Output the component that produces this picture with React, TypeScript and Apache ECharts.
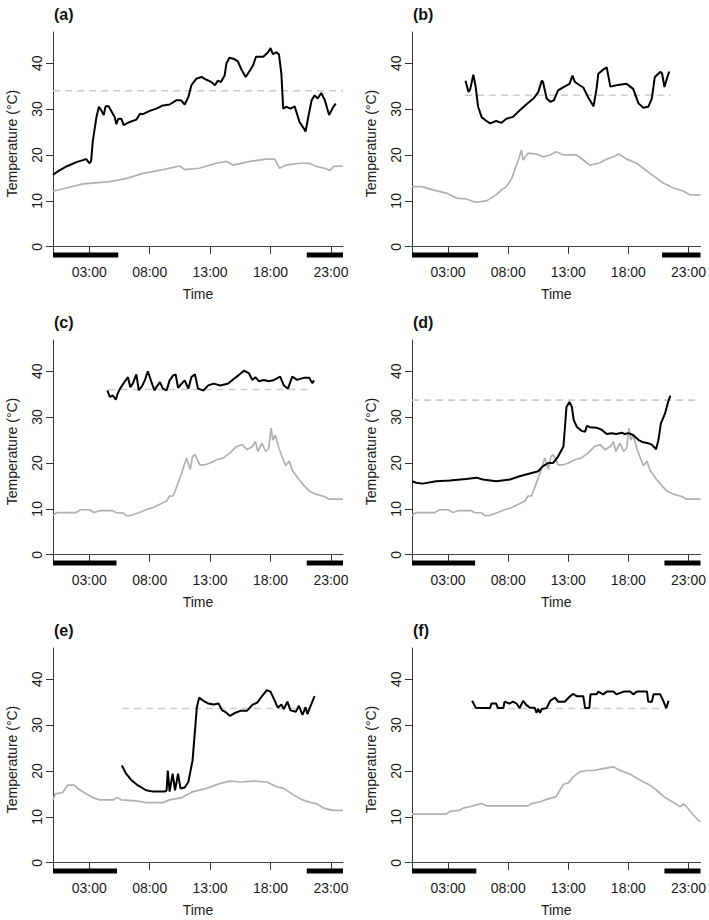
import React, { useEffect, useRef } from "react";
import * as echarts from "echarts";

// ---------- data (hour of day, temperature °C) ----------
const panelLabels = ["(a)", "(b)", "(c)", "(d)", "(e)", "(f)"];
const xTickHours = [3, 8, 13, 18, 23];
const yTickValues = [0, 10, 20, 30, 40];

const bodyA: [number, number][] = [
  [0, 15.7], [0.5, 16.6], [1.2, 17.6], [2, 18.5], [2.75, 19.1], [3, 18.2], [3.15, 18.6], [3.3, 23.2], [3.6, 28.3], [3.8, 30.5],
  [4.0, 29.7], [4.2, 28.7], [4.35, 30.6], [4.6, 30.6], [4.8, 29.7], [5.1, 28.3], [5.24, 26.7], [5.4, 27.9], [5.65, 27.9],
  [5.85, 26.5], [6.35, 27.2], [6.9, 27.7], [7.2, 29.0], [7.45, 28.9], [8.0, 29.6], [8.55, 30.1], [9.1, 30.8], [9.65, 31.0],
  [10.2, 31.9], [10.6, 31.9], [10.9, 31.0], [11.2, 32.6], [11.45, 35.2], [11.85, 36.6], [12.3, 37.0], [12.55, 36.6],
  [13.1, 35.9], [13.4, 35.2], [13.65, 36.2], [13.9, 35.9], [14.2, 37.3], [14.35, 39.9], [14.6, 41.2], [15.0, 40.9],
  [15.3, 40.4], [15.6, 38.6], [15.95, 37.0], [16.3, 38.4], [16.55, 39.5], [16.8, 41.4], [17.4, 41.4], [17.8, 42.4],
  [18.0, 43.3], [18.2, 42.0], [18.5, 42.4], [18.7, 41.9], [18.9, 37.7], [19.05, 30.1], [19.3, 30.5], [19.65, 30.1],
  [20.0, 30.6], [20.4, 27.2], [20.75, 25.8], [20.9, 25.1], [21.1, 27.9], [21.4, 31.9], [21.65, 33.0], [21.9, 32.3],
  [22.2, 33.5], [22.5, 31.9], [22.85, 28.7], [23.2, 30.5], [23.4, 31.2],
];
const ambientA: [number, number][] = [
  [0, 12.1], [1.1, 12.8], [2.5, 13.7], [4.7, 14.2], [6.1, 14.9], [7.45, 16.0], [9.1, 16.8], [10.5, 17.6], [10.9, 16.8],
  [12.1, 17.1], [13.5, 18.2], [14.35, 18.6], [14.9, 17.8], [16.3, 18.6], [17.65, 19.1], [18.35, 19.1], [18.75, 17.1],
  [19.3, 17.8], [20.4, 18.2], [21.2, 18.2], [21.8, 17.5], [22.6, 17.0], [22.9, 16.6], [23.2, 17.5], [24, 17.6],
];

const bodyB: [number, number][] = [
  [4.45, 36.2], [4.7, 33.7], [4.85, 34.4], [5.1, 37.5], [5.3, 34.8], [5.5, 30.5], [5.8, 28.2], [6.2, 27.4], [6.5, 26.9],
  [7.0, 27.4], [7.45, 27.0], [7.85, 27.9], [8.4, 28.3], [8.95, 29.7], [9.5, 31.0], [10.1, 32.3], [10.5, 33.7], [10.8, 36.2],
  [10.9, 35.9], [11.2, 32.3], [11.5, 31.6], [11.8, 31.9], [12.15, 34.1], [12.6, 34.8], [13.1, 35.5], [13.35, 37.3],
  [13.55, 35.9], [13.95, 35.2], [14.25, 34.7], [14.65, 32.6], [15.1, 30.6], [15.35, 34.4], [15.5, 37.7], [15.9, 38.6],
  [16.2, 39.1], [16.5, 34.9], [17.0, 35.2], [17.85, 35.5], [18.4, 34.4], [18.85, 31.2], [19.25, 30.3], [19.65, 30.5],
  [19.95, 32.3], [20.2, 37.0], [20.65, 38.1], [20.8, 37.8], [21.0, 34.8], [21.15, 36.2], [21.4, 38.2],
];
const ambientB: [number, number][] = [
  [0, 13.1], [0.8, 13.1], [1.75, 12.4], [2.85, 11.7], [3.7, 10.6], [4.5, 10.4], [5.3, 9.7], [6.2, 10.0], [7.0, 11.3],
  [7.45, 12.4], [7.85, 13.1], [8.3, 14.9], [8.55, 16.8], [8.85, 18.9], [9.1, 21.1], [9.25, 18.9], [9.65, 20.4],
  [10.35, 20.2], [10.9, 19.6], [11.5, 20.0], [12.0, 20.7], [12.6, 20.0], [13.7, 20.0], [14.25, 18.9], [14.8, 17.8],
  [15.65, 18.3], [16.2, 19.1], [16.75, 19.6], [17.2, 20.2], [17.85, 19.1], [18.7, 18.2], [19.8, 16.0], [20.9, 13.9],
  [21.75, 12.8], [22.6, 12.1], [23.15, 11.3], [24, 11.3],
];

const bodyC: [number, number][] = [
  [4.5, 35.8], [4.7, 34.4], [4.95, 34.7], [5.2, 33.8], [5.35, 35.1], [5.55, 36.2], [5.9, 37.6], [6.2, 38.7], [6.4, 36.5],
  [6.6, 37.3], [6.9, 39.3], [7.1, 35.8], [7.4, 36.9], [7.6, 38.0], [7.85, 40.0], [8.15, 37.6], [8.4, 35.8], [8.6, 36.7],
  [8.85, 37.6], [9.1, 36.2], [9.4, 35.8], [9.65, 38.0], [9.95, 39.1], [10.15, 39.3], [10.35, 36.4], [10.65, 37.3],
  [10.9, 38.0], [11.2, 36.2], [11.45, 38.7], [11.75, 39.3], [12.0, 36.2], [12.45, 35.8], [12.85, 36.9], [13.3, 37.3],
  [13.85, 36.9], [14.5, 37.3], [14.95, 38.3], [15.35, 39.1], [15.8, 40.1], [16.2, 39.6], [16.5, 38.1], [16.75, 38.7],
  [17.05, 37.8], [17.45, 38.1], [17.85, 37.8], [18.3, 38.1], [18.8, 38.8], [19.1, 36.9], [19.45, 36.2], [19.8, 38.8],
  [20.2, 38.1], [20.8, 38.6], [21.2, 38.6], [21.45, 37.4], [21.6, 38.0],
];
const ambientCD: [number, number][] = [
  [0, 8.6], [0.35, 9.2], [1.9, 9.2], [2.3, 9.8], [3.0, 9.8], [3.4, 9.2], [3.85, 9.6], [4.95, 9.6], [5.2, 9.2], [5.8, 9.1],
  [6.05, 8.5], [6.5, 8.6], [7.15, 9.2], [7.7, 9.8], [8.3, 10.3], [8.85, 11.0], [9.4, 11.7], [9.65, 12.8], [9.95, 12.8],
  [10.2, 14.6], [10.65, 17.8], [11.05, 21.1], [11.35, 18.6], [11.55, 21.4], [11.75, 21.8], [12.15, 19.6], [12.6, 19.6],
  [13.0, 20.0], [13.55, 20.7], [14.1, 21.1], [14.65, 22.2], [15.2, 23.6], [15.65, 24.0], [16.05, 22.9], [16.5, 23.6],
  [16.75, 24.7], [16.95, 22.5], [17.3, 24.3], [17.6, 22.5], [17.85, 23.2], [18.05, 27.6], [18.2, 25.0], [18.4, 26.1],
  [18.7, 23.2], [18.95, 21.4], [19.25, 19.4], [19.55, 20.4], [19.8, 18.4], [20.35, 16.4], [20.8, 15.0], [21.2, 13.9],
  [21.75, 13.2], [22.45, 12.7], [22.85, 12.1], [24, 12.1],
];

const bodyD: [number, number][] = [
  [0, 16.0], [0.35, 15.7], [0.9, 15.5], [2.0, 16.0], [3.15, 16.2], [4.5, 16.5], [5.35, 16.8], [5.9, 16.4], [7.0, 16.0],
  [8.15, 16.4], [8.95, 17.1], [9.8, 17.7], [10.5, 18.2], [10.9, 19.3], [11.35, 20.0], [11.75, 20.0], [12.15, 21.4],
  [12.6, 23.6], [12.85, 32.2], [13.1, 33.3], [13.3, 32.2], [13.45, 29.4], [13.7, 27.9], [14.1, 27.0], [14.4, 26.8],
  [14.55, 28.1], [14.8, 27.8], [15.35, 27.7], [15.8, 27.2], [16.2, 26.3], [16.6, 26.5], [17.0, 26.3], [17.45, 26.6],
  [17.7, 26.3], [18.0, 26.5], [18.4, 26.1], [18.85, 25.0], [19.25, 24.5], [19.65, 24.3], [19.95, 24.0], [20.3, 23.0],
  [20.5, 25.0], [20.7, 28.6], [21.05, 30.8], [21.35, 33.7], [21.5, 34.7],
];

const bodyE: [number, number][] = [
  [5.7, 21.2], [6.05, 19.4], [6.45, 18.1], [7.0, 16.9], [7.7, 15.8], [8.3, 15.5], [8.85, 15.5], [9.25, 15.5], [9.4, 15.7],
  [9.5, 20.1], [9.65, 15.5], [9.9, 19.4], [10.1, 15.8], [10.35, 19.4], [10.55, 16.2], [10.9, 16.4], [11.2, 17.6],
  [11.55, 22.3], [11.75, 28.8], [11.9, 33.8], [12.1, 36.0], [12.45, 35.3], [12.85, 34.7], [13.3, 34.5], [13.7, 34.7],
  [14.0, 33.2], [14.25, 32.9], [14.65, 32.0], [15.1, 32.7], [15.5, 33.1], [16.05, 33.1], [16.5, 34.4], [16.9, 34.9],
  [17.3, 36.3], [17.7, 37.6], [18.0, 37.3], [18.3, 35.6], [18.6, 33.8], [18.9, 34.5], [19.1, 33.5], [19.4, 35.1],
  [19.65, 33.2], [20.1, 32.9], [20.35, 34.2], [20.65, 32.2], [20.9, 33.9], [21.05, 32.4], [21.35, 34.4], [21.65, 36.3],
];
const ambientE: [number, number][] = [
  [0, 13.7], [0.2, 15.0], [0.8, 15.3], [1.2, 16.9], [1.75, 16.9], [2.15, 16.0], [2.7, 15.1], [3.3, 14.2], [3.85, 13.7],
  [4.95, 13.7], [5.35, 14.2], [5.65, 13.7], [6.9, 13.5], [7.7, 13.1], [9.1, 13.1], [9.65, 13.7], [10.65, 14.2],
  [11.6, 15.5], [12.7, 16.2], [13.85, 17.3], [14.65, 17.8], [15.5, 17.6], [16.6, 17.8], [17.7, 17.6], [18.55, 16.5],
  [19.1, 16.2], [19.95, 14.7], [20.65, 13.7], [21.35, 13.1], [21.75, 12.9], [22.45, 11.9], [23.15, 11.4], [24, 11.4],
];

const bodyF: [number, number][] = [
  [5.0, 35.3], [5.3, 33.8], [5.9, 33.7], [6.5, 33.7], [6.6, 34.7], [7.0, 34.7], [7.15, 33.7], [7.6, 33.7], [7.7, 35.1],
  [8.1, 34.7], [8.4, 35.1], [8.7, 34.7], [8.95, 33.7], [9.25, 35.3], [9.5, 34.4], [9.8, 33.8], [10.2, 33.8], [10.35, 32.7],
  [10.5, 33.5], [10.65, 32.7], [10.8, 33.5], [11.2, 33.7], [11.5, 35.3], [11.9, 36.0], [12.15, 35.1], [12.7, 35.1],
  [13.15, 36.3], [13.4, 36.8], [13.7, 36.3], [14.25, 36.3], [14.4, 33.7], [14.75, 33.7], [14.85, 36.7], [15.35, 36.7],
  [15.5, 37.3], [15.9, 36.7], [16.2, 37.3], [16.75, 37.3], [17.0, 36.7], [17.6, 37.3], [18.15, 37.3], [18.4, 36.7],
  [18.7, 37.3], [19.55, 37.3], [19.65, 35.1], [19.95, 35.1], [20.1, 36.7], [20.65, 36.7], [20.9, 35.3], [21.15, 33.7],
  [21.35, 35.3],
];
const ambientF: [number, number][] = [
  [0, 10.6], [2.85, 10.6], [3.15, 11.2], [3.95, 11.4], [4.25, 11.9], [4.8, 12.2], [5.35, 12.6], [5.8, 12.9], [6.2, 12.4],
  [7.0, 12.4], [9.65, 12.4], [9.95, 12.9], [10.65, 13.3], [11.2, 13.8], [12.0, 14.4], [12.3, 15.8], [12.6, 17.1],
  [13.0, 17.4], [13.4, 18.7], [13.95, 19.8], [14.5, 20.1], [15.1, 20.1], [15.9, 20.5], [16.75, 20.9], [17.15, 20.3],
  [18.15, 19.3], [19.0, 18.0], [19.8, 16.9], [20.35, 15.8], [21.05, 14.2], [21.9, 12.9], [22.3, 12.2], [22.6, 12.8],
  [22.85, 12.2], [23.4, 10.4], [23.85, 9.2], [24, 9.0],
];

// threshold (dashed): [start hour, end hour, value]
const thresholds: [number, number, number][] = [
  [0, 24, 34.0],
  [4.4, 21.5, 33.0],
  [4.6, 21.4, 36.0],
  [0, 23.7, 33.7],
  [5.7, 21.5, 33.6],
  [5.0, 21.2, 33.6],
];

// night periods: [morning end hour, evening start hour]
const nights: [number, number][] = [
  [5.4, 21.0],
  [5.5, 20.8],
  [5.25, 21.0],
  [5.25, 21.0],
  [5.3, 21.0],
  [5.35, 21.0],
];

const bodySeries = [bodyA, bodyB, bodyC, bodyD, bodyE, bodyF];
const ambientSeries = [ambientA, ambientB, ambientCD, ambientCD, ambientE, ambientF];

// ---------- layout ----------
const Y_MIN = -1.8;
const Y_MAX = 46.8;
const colLeft = [53, 412];
const colWidth = [290, 289];
const rowTop = [32, 340, 648];
const gridHeight = 223;
const FONT = "'Liberation Sans', Arial, Helvetica, sans-serif";

const hhmm = (v: number) => String(v).padStart(2, "0") + ":00";

export default function App() {
  const ref = useRef<HTMLDivElement>(null);

  useEffect(() => {
    if (!ref.current) return;
    const chart = echarts.init(ref.current, null, { renderer: "svg" });

    const grids: any[] = [];
    const xAxes: any[] = [];
    const yAxes: any[] = [];
    const series: any[] = [];
    const graphics: any[] = [];

    for (let i = 0; i < 6; i++) {
      const col = i % 2;
      const row = Math.floor(i / 2);
      grids.push({
        left: colLeft[col],
        top: rowTop[row],
        width: colWidth[col],
        height: gridHeight,
      });
      xAxes.push({
        type: "value",
        gridIndex: i,
        min: 0,
        max: 24,
        name: "Time",
        nameLocation: "middle",
        nameGap: 32,
        nameTextStyle: { fontSize: 14, color: "#1a1a1a", fontFamily: FONT },
        splitLine: { show: false },
        axisLine: { show: true, lineStyle: { color: "#444", width: 1 } },
        axisTick: { show: true, length: 7, customValues: xTickHours, lineStyle: { color: "#333" } },
        axisLabel: {
          customValues: xTickHours,
          formatter: (v: number) => hhmm(v),
          fontSize: 14,
          color: "#1a1a1a",
          fontFamily: FONT,
          margin: 10,
        },
      });
      yAxes.push({
        type: "value",
        gridIndex: i,
        min: Y_MIN,
        max: Y_MAX,
        name: "Temperature (°C)",
        nameLocation: "middle",
        nameGap: 34,
        nameTextStyle: { fontSize: 14, color: "#1a1a1a", fontFamily: FONT },
        splitLine: { show: false },
        axisLine: { show: true, lineStyle: { color: "#333", width: 1 } },
        axisTick: { show: true, length: 7, customValues: yTickValues, lineStyle: { color: "#333" } },
        axisLabel: {
          customValues: yTickValues,
          rotate: 90,
          fontSize: 14,
          color: "#1a1a1a",
          fontFamily: FONT,
          margin: 9,
        },
      });

      const [t0, t1, tv] = thresholds[i];
      series.push({
        type: "line",
        xAxisIndex: i,
        yAxisIndex: i,
        data: [[t0, tv], [t1, tv]],
        showSymbol: false,
        lineStyle: { color: "#cccccc", width: 1.6, type: [7, 5] },
        z: 2,
      });
      series.push({
        type: "line",
        xAxisIndex: i,
        yAxisIndex: i,
        data: ambientSeries[i],
        showSymbol: false,
        lineStyle: { color: "#b0b0b0", width: 1.7 },
        z: 3,
      });
      series.push({
        type: "line",
        xAxisIndex: i,
        yAxisIndex: i,
        data: bodySeries[i],
        showSymbol: false,
        lineStyle: { color: "#000", width: 2 },
        z: 4,
      });
      const [mEnd, eStart] = nights[i];
      series.push({
        type: "line",
        xAxisIndex: i,
        yAxisIndex: i,
        data: [[0, Y_MIN], [mEnd, Y_MIN]],
        showSymbol: false,
        clip: false,
        lineStyle: { color: "#000", width: 5, cap: "butt" },
        z: 5,
      });
      series.push({
        type: "line",
        xAxisIndex: i,
        yAxisIndex: i,
        data: [[eStart, Y_MIN], [24, Y_MIN]],
        showSymbol: false,
        clip: false,
        lineStyle: { color: "#000", width: 5, cap: "butt" },
        z: 5,
      });

      graphics.push({
        type: "text",
        left: colLeft[col] + 1,
        top: rowTop[row] - 26,
        style: {
          text: panelLabels[i],
          font: `bold 16px ${FONT}`,
          fill: "#111",
        },
      });
    }

    chart.setOption({
      animation: false,
      backgroundColor: "#fff",
      grid: grids,
      xAxis: xAxes,
      yAxis: yAxes,
      series,
      graphic: graphics,
    });

    return () => chart.dispose();
  }, []);

  return (
    <div
      ref={ref}
      style={{ position: "fixed", left: 0, top: 0, width: 709, height: 920, background: "#fff" }}
    />
  );
}
